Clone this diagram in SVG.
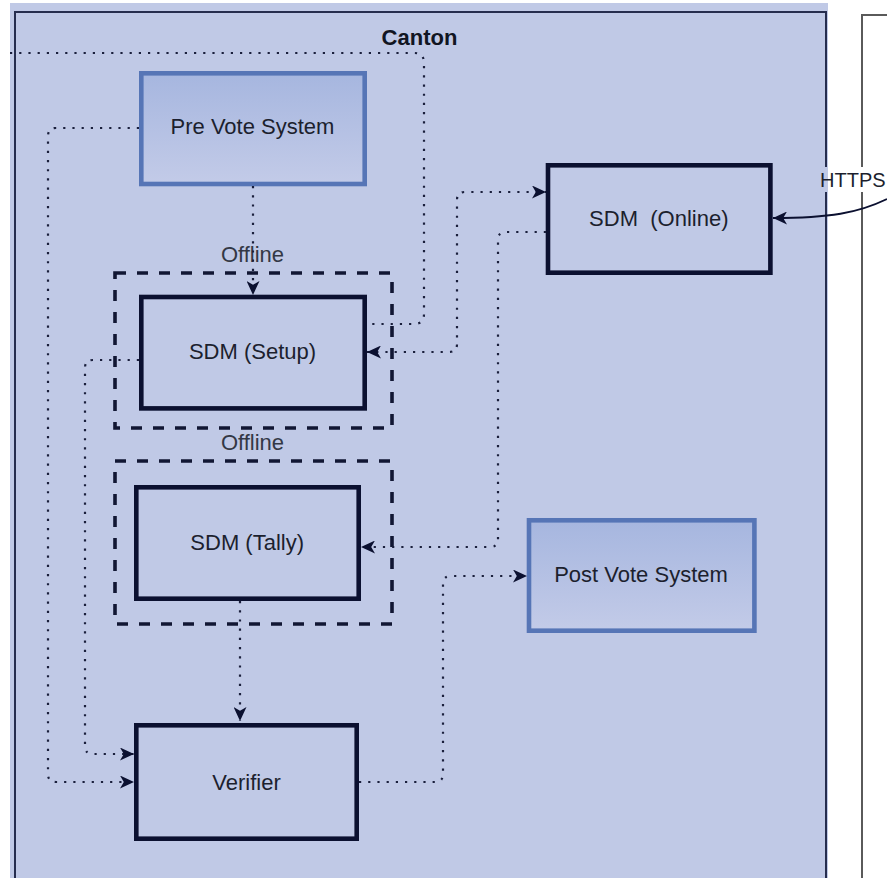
<svg xmlns="http://www.w3.org/2000/svg" width="887" height="878" viewBox="0 0 887 878">
  <style>
    text { font-family: "Liberation Sans", Arial, sans-serif; font-size: 22px; fill: #1c1f2e; text-anchor: middle; }
    .title { font-weight: bold; fill: #111522; }
    .offline { fill: #333845; }
    .box { fill: none; stroke: #0b1030; stroke-width: 4.6; }
    .sys { fill: url(#sysGrad); stroke: #5675b6; stroke-width: 4.6; }
    .dash { fill: none; stroke: #111633; stroke-width: 3.6; stroke-dasharray: 11 11; }
    .dot { fill: none; stroke: #1a1f3c; stroke-width: 2.2; stroke-dasharray: 2.2 7; }
  </style>
  <defs>
    <linearGradient id="sysGrad" x1="0" y1="0" x2="0" y2="1">
      <stop offset="0" stop-color="#a6b6df"/>
      <stop offset="1" stop-color="#c3cbe8"/>
    </linearGradient>
    <marker id="arr" viewBox="0 0 14 13" refX="14" refY="6.5" markerWidth="14" markerHeight="13" markerUnits="userSpaceOnUse" orient="auto-start-reverse">
      <path d="M 0 0 L 14 6.5 L 0 13 L 3.8 6.5 Z" fill="#0b1030"/>
    </marker>
  </defs>

  <rect x="0" y="0" width="887" height="878" fill="#ffffff"/>

  <g id="canton">
    <rect x="10" y="3" width="818" height="875" fill="#c0c9e6"/>
    <path d="M 15 878 V 12 H 826 V 167 M 826 192 V 878" fill="none" stroke="#262d4e" stroke-width="2"/>
    <text class="title" x="419.5" y="45">Canton</text>
  </g>

  <g id="external">
    <path d="M 887 15 H 862 V 167 M 862 192 V 878" fill="none" stroke="#5a5a5a" stroke-width="2"/>
  </g>

  <g id="offline-setup">
    <rect class="dash" x="115" y="273" width="277" height="155"/>
    <text class="offline" x="252.5" y="262">Offline</text>
  </g>

  <g id="offline-tally">
    <rect class="dash" x="115" y="461" width="277" height="163"/>
    <text class="offline" x="252.5" y="450">Offline</text>
  </g>

  <g id="pre-vote">
    <rect class="sys" x="141.3" y="73.3" width="223.4" height="110.7"/>
    <text x="252.5" y="134">Pre Vote System</text>
  </g>

  <g id="sdm-setup">
    <rect class="box" x="141.3" y="297" width="223.4" height="111.4"/>
    <text x="252.5" y="359">SDM (Setup)</text>
  </g>

  <g id="sdm-tally">
    <rect class="box" x="136.3" y="487.3" width="222.4" height="111.4"/>
    <text x="247.2" y="550">SDM (Tally)</text>
  </g>

  <g id="verifier">
    <rect class="box" x="136.3" y="725.3" width="220.4" height="113.4"/>
    <text x="246.5" y="790">Verifier</text>
  </g>

  <g id="sdm-online">
    <rect class="box" x="548" y="165.3" width="222.4" height="107.4"/>
    <text x="658.8" y="226" style="white-space:pre">SDM  (Online)</text>
  </g>

  <g id="post-vote">
    <rect class="sys" x="529" y="520.3" width="225.4" height="110.4"/>
    <text x="641" y="582">Post Vote System</text>
  </g>

  <g id="connectors">
    <path class="dot" d="M 10 53 H 414 Q 424 53 424 63 V 314 Q 424 324 414 324 H 367"/>
    <path class="dot" d="M 139 128 H 56 Q 48 128 48 136 V 774 Q 48 782 56 782 H 134" marker-end="url(#arr)"/>
    <path class="dot" d="M 253 186 V 295" marker-end="url(#arr)"/>
    <path class="dot" d="M 139 360 H 93 Q 85 360 85 368 V 746 Q 85 754 93 754 H 134" marker-end="url(#arr)"/>
    <path class="dot" d="M 367 352 H 449 Q 457 352 457 344 V 200 Q 457 192 465 192 H 546" marker-start="url(#arr)" marker-end="url(#arr)"/>
    <path class="dot" d="M 546 232 H 506 Q 498 232 498 240 V 539 Q 498 547 490 547 H 361" marker-end="url(#arr)"/>
    <path class="dot" d="M 240 601 V 721" marker-end="url(#arr)"/>
    <path class="dot" d="M 359 782 H 435 Q 443 782 443 774 V 584 Q 443 576 451 576 H 527" marker-end="url(#arr)"/>
    <path d="M 887 199 C 858 213 830 218 773 218" fill="none" stroke="#0b1030" stroke-width="1.8" marker-end="url(#arr)"/>
    <g id="https-label">
      <rect x="828" y="167" width="59" height="25" fill="#ffffff"/>
      <text x="820" y="187" style="font-size:20px;text-anchor:start;fill:#1c1f2e">HTTPS</text>
    </g>
  </g>
</svg>
